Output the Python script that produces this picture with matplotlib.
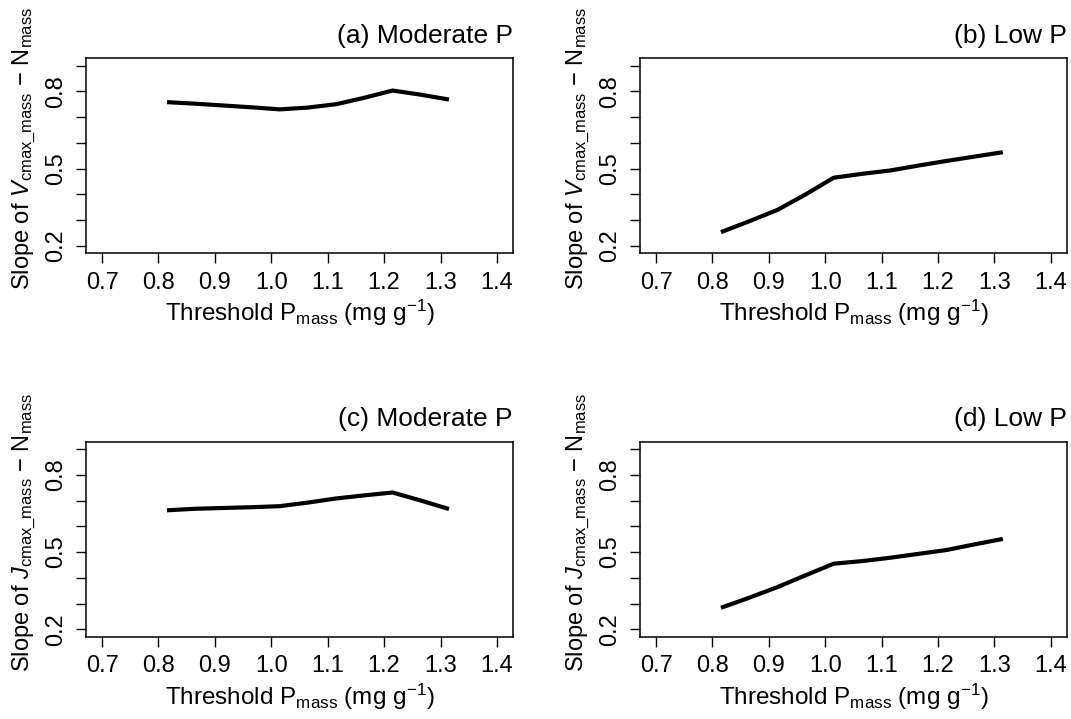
import matplotlib
matplotlib.use("Agg")
import matplotlib.pyplot as plt

plt.rcParams["font.family"] = ["Liberation Sans", "DejaVu Sans"]
plt.rcParams["mathtext.fontset"] = "custom"
plt.rcParams["mathtext.rm"] = "Liberation Sans"
plt.rcParams["mathtext.it"] = "Liberation Sans:italic"

# threshold P_mass values (mg g-1)
threshold = [0.815, 0.865, 0.915, 0.965, 1.015, 1.065, 1.115, 1.165, 1.215, 1.265, 1.315]

vcmax_moderate = [0.758, 0.752, 0.745, 0.738, 0.730, 0.737, 0.750, 0.775, 0.803, 0.787, 0.768]
vcmax_low = [0.254, 0.296, 0.340, 0.400, 0.465, 0.480, 0.493, 0.512, 0.530, 0.547, 0.564]
jcmax_moderate = [0.662, 0.668, 0.671, 0.674, 0.678, 0.692, 0.708, 0.720, 0.731, 0.700, 0.667]
jcmax_low = [0.284, 0.323, 0.364, 0.410, 0.455, 0.465, 0.478, 0.493, 0.508, 0.530, 0.551]

titles = ["(a) Moderate P", "(b) Low P", "(c) Moderate P", "(d) Low P"]
trait = ["V", "V", "J", "J"]
series = [vcmax_moderate, vcmax_low, jcmax_moderate, jcmax_low]

x_ticks = [0.7, 0.8, 0.9, 1.0, 1.1, 1.2, 1.3, 1.4]
y_ticks = [0.2, 0.3, 0.4, 0.5, 0.6, 0.7, 0.8, 0.9]
y_labelled = [0.2, 0.5, 0.8]

W, H = 1071, 719
# axes boxes in pixels: left, top, right, bottom
boxes = [
    (86.3, 58.3, 512.7, 253.3),
    (640.3, 58.3, 1066.5, 253.3),
    (86.3, 441.7, 512.7, 636.7),
    (640.3, 441.7, 1066.5, 636.7),
]

fig = plt.figure(figsize=(W / 100, H / 100), dpi=100)

for i, (l, t, r, b) in enumerate(boxes):
    ax = fig.add_axes([l / W, 1 - b / H, (r - l) / W, (b - t) / H])
    ax.plot(threshold, series[i], color="black", lw=3, solid_capstyle="butt")

    # R style 4% padding around the data range
    ax.set_xlim(0.7 - 0.028, 1.4 + 0.028)
    ax.set_ylim(0.2 - 0.028, 0.9 + 0.028)
    ax.set_xticks(x_ticks)
    ax.set_xticklabels([f"{v:.1f}" for v in x_ticks])
    ax.set_yticks(y_ticks)
    ax.set_yticklabels([f"{v:.1f}" if v in y_labelled else "" for v in y_ticks])
    ax.tick_params(axis="both", direction="out", length=7.5, width=1,
                   labelsize=17, pad=6)
    ax.tick_params(axis="y", labelrotation=90)
    for lab in ax.get_yticklabels():
        lab.set_va("center")
    for s in ax.spines.values():
        s.set_linewidth(1.1)

    ax.set_title(titles[i], loc="right", fontsize=19, pad=11)
    ax.set_xlabel(r"Threshold P$_{\mathrm{mass}}$ (mg g$^{\mathrm{-1}}$)",
                  fontsize=17.5, labelpad=3)
    ax.set_ylabel(r"Slope of $\mathit{%s}_{\mathrm{cmax\_mass}}$ $-$ N$_{\mathrm{mass}}$" % trait[i],
                  fontsize=17)
    ax.yaxis.set_label_coords(-0.114, 0.536)

fig.savefig("out.png", dpi=100)
